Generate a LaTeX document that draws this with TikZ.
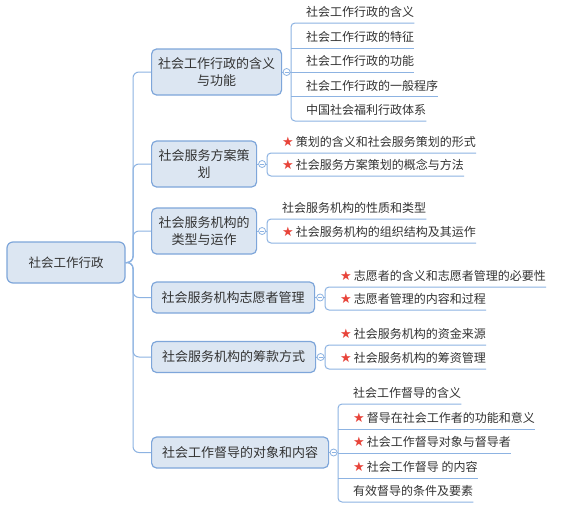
\documentclass[tikz,border=0pt]{standalone}
\usepackage{fontspec}
\setmainfont{Noto Sans CJK SC}
\newfontfamily\symf{DejaVu Sans}
\usetikzlibrary{calc}
\definecolor{lineblue}{HTML}{8DB3E2}
\definecolor{boxfill}{HTML}{DCE6F2}
\definecolor{boxdraw}{HTML}{7EA6DA}
\definecolor{txt}{HTML}{333333}
\definecolor{starred}{HTML}{E8443A}
\newcommand\st{{\symf\fontsize{13}{13}\selectfont\color{starred}★}\hspace{2pt}}
\tikzset{
  ln/.style={draw=lineblue, line width=1pt},
  l1/.style={draw=boxdraw, fill=boxfill, rounded corners=5pt, line width=1.2pt,
    font=\fontsize{13}{17}\selectfont, text=txt, align=center, anchor=west, inner sep=0pt},
  rootbox/.style={draw=boxdraw, fill=boxfill, rounded corners=6pt, line width=1.2pt,
    font=\fontsize{12.5}{15}\selectfont, text=txt, align=center, inner sep=0pt,
    minimum width=118pt, minimum height=41pt},
  leaf/.style={anchor=south west, inner xsep=0pt, inner ysep=3pt, text height=9pt, text depth=3pt,
    font=\fontsize{12}{14}\selectfont, text=txt},
  circ/.style={circle, draw=lineblue, fill=white, line width=0.8pt, minimum size=7pt, inner sep=0pt,
    path picture={\draw[lineblue, line width=0.6pt] ([xshift=-2pt]path picture bounding box.center) -- ([xshift=2pt]path picture bounding box.center);}}
}
\newcommand\lt[1]{\hspace{15pt}#1\hspace{10pt}}
\begin{document}
\begin{tikzpicture}[x=1pt,y=-1pt]
\useasboundingbox (0,0) rectangle (565,512);
\fill[white] (0,0) rectangle (565,512);

% root and level-1 nodes
\node[rootbox] (root) at (66,262.5) {社会工作行政};
\node[l1, minimum width=130pt, minimum height=46pt] (n1) at (151,72) {社会工作行政的含义\\与功能};
\node[l1, minimum width=105pt, minimum height=46pt] (n2) at (151,164) {社会服务方案策\\划};
\node[l1, minimum width=105pt, minimum height=46pt] (n3) at (151,231) {社会服务机构的\\类型与运作};
\node[l1, minimum width=163pt, minimum height=31pt] (n4) at (151,297.5) {社会服务机构志愿者管理};
\node[l1, minimum width=164pt, minimum height=31pt] (n5) at (151,357) {社会服务机构的筹款方式};
\node[l1, minimum width=177pt, minimum height=31pt] (n6) at (151,452.5) {社会工作督导的对象和内容};

% trunk
\foreach \n in {n1,n2,n3,n4,n5,n6}{
  \draw[ln, rounded corners=6pt] (root.east) -- (133,262.5) -- (133,0 |- \n.west) -- (\n.west);
}

% group 1
\node[leaf] (g1a) at (291,23) {\lt{社会工作行政的含义}};
\node[leaf] (g1b) at (291,48) {\lt{社会工作行政的特征}};
\node[leaf] (g1c) at (291,72) {\lt{社会工作行政的功能}};
\node[leaf] (g1d) at (291,96.5) {\lt{社会工作行政的一般程序}};
\node[leaf] (g1e) at (291,121) {\lt{中国社会福利行政体系}};
\draw[ln, rounded corners=4pt] (g1a.south east) -- (g1a.south west) -- (g1e.south west) -- (g1e.south east);
\foreach \m in {g1b,g1c,g1d}{\draw[ln] (\m.south west) -- (\m.south east);}
\draw[ln] (n1.east) -- (g1a.south west |- n1.east);
\node[circ] (c1) at ($(n1.east)!0.5!(g1a.south west |- n1.east)$) {};

% group 2
\node[leaf] (g2a) at (267,153) {\lt{\st 策划的含义和社会服务策划的形式}};
\node[leaf] (g2b) at (267,176) {\lt{\st 社会服务方案策划的概念与方法}};
\draw[ln, rounded corners=4pt] (g2a.south east) -- (g2a.south west) -- (g2b.south west) -- (g2b.south east);
\draw[ln] (n2.east) -- (g2a.south west |- n2.east);
\node[circ] (c2) at ($(n2.east)!0.5!(g2a.south west |- n2.east)$) {};

% group 3
\node[leaf] (g3a) at (267,219) {\lt{社会服务机构的性质和类型}};
\node[leaf] (g3b) at (267,243) {\lt{\st 社会服务机构的组织结构及其运作}};
\draw[ln, rounded corners=4pt] (g3a.south east) -- (g3a.south west) -- (g3b.south west) -- (g3b.south east);
\draw[ln] (n3.east) -- (g3a.south west |- n3.east);
\node[circ] (c3) at ($(n3.east)!0.5!(g3a.south west |- n3.east)$) {};

% group 4
\node[leaf] (g4a) at (325,287) {\lt{\st 志愿者的含义和志愿者管理的必要性}};
\node[leaf] (g4b) at (325,310) {\lt{\st 志愿者管理的内容和过程}};
\draw[ln, rounded corners=4pt] (g4a.south east) -- (g4a.south west) -- (g4b.south west) -- (g4b.south east);
\draw[ln] (n4.east) -- (g4a.south west |- n4.east);
\node[circ] (c4) at ($(n4.east)!0.5!(g4a.south west |- n4.east)$) {};

% group 5
\node[leaf] (g5a) at (325,345) {\lt{\st 社会服务机构的资金来源}};
\node[leaf] (g5b) at (325,369) {\lt{\st 社会服务机构的筹资管理}};
\draw[ln, rounded corners=4pt] (g5a.south east) -- (g5a.south west) -- (g5b.south west) -- (g5b.south east);
\draw[ln] (n5.east) -- (g5a.south west |- n5.east);
\node[circ] (c5) at ($(n5.east)!0.5!(g5a.south west |- n5.east)$) {};

% group 6
\node[leaf] (g6a) at (338,404) {\lt{社会工作督导的含义}};
\node[leaf] (g6b) at (338,429) {\lt{\st 督导在社会工作者的功能和意义}};
\node[leaf] (g6c) at (338,453) {\lt{\st 社会工作督导对象与督导者}};
\node[leaf] (g6d) at (338,478) {\lt{\st 社会工作督导 的内容}};
\node[leaf] (g6e) at (338,502) {\lt{有效督导的条件及要素}};
\draw[ln, rounded corners=4pt] (g6a.south east) -- (g6a.south west) -- (g6e.south west) -- (g6e.south east);
\foreach \m in {g6b,g6c,g6d}{\draw[ln] (\m.south west) -- (\m.south east);}
\draw[ln] (n6.east) -- (g6a.south west |- n6.east);
\node[circ] (c6) at ($(n6.east)!0.5!(g6a.south west |- n6.east)$) {};
\end{tikzpicture}
\end{document}
